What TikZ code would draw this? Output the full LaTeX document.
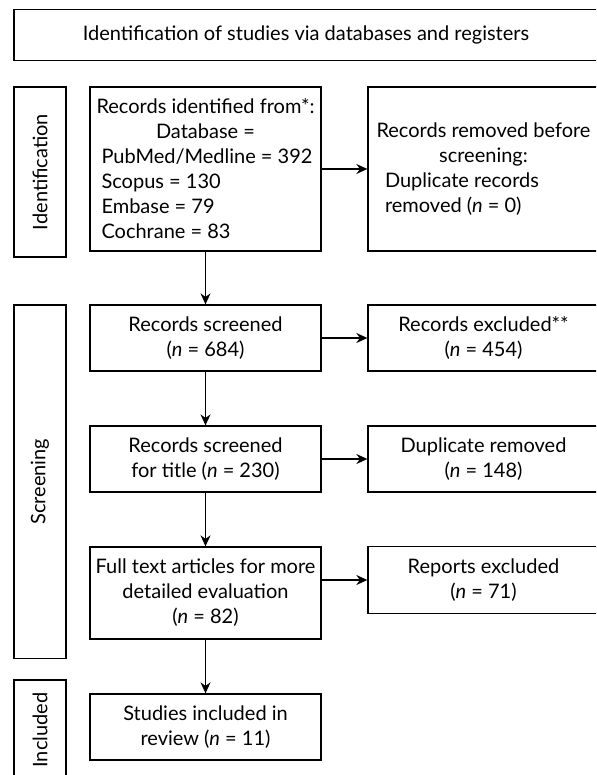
\documentclass[tikz,border=0pt]{standalone}
\usepackage{fontspec}
\setmainfont{Lato}
\usetikzlibrary{arrows.meta}

\tikzset{
  box/.style={draw, line width=1.3pt, minimum width=231pt, align=center, inner sep=2pt},
  side/.style={draw, line width=1.3pt, rotate=90, minimum height=52pt, inner sep=2pt},
  flow/.style={->, line width=1.3pt},
}
\newcommand{\nn}{\textit{n}}

\begin{document}
\begin{tikzpicture}[x=1pt, y=-1pt, >={Stealth[length=11pt,width=10pt]},
    font=\fontsize{20}{25}\selectfont]
        \useasboundingbox (0,0) rectangle (596,775);
        \clip (0,0) rectangle (596,775);

        % Header across the top
        \node[box, minimum width=584pt, minimum height=51.4pt] (head) at (306,35)
            {Identification of studies via databases and registers};

        % Phase labels on the left
        \node[side, minimum width=170pt] (phaseid) at (40,172) {Identification};
        \node[side, minimum width=353.5pt] (phasescr) at (40,481.75) {Screening};
        \node[side, minimum width=100pt] (phaseinc) at (40,730) {Included};

        % Identification
        \node[box, minimum height=164pt] (ident) at (205.5,169)
            {Records identified from*:\\ Database =\\
             \makebox[208pt][l]{PubMed/Medline = 392}\\
             \makebox[208pt][l]{Scopus = 130}\\
             \makebox[208pt][l]{Embase = 79}\\
             \makebox[208pt][l]{Cochrane = 83}};
        \node[box, minimum height=164pt] (removed) at (483.5,169)
            {Records removed before\\ screening:\\
             \makebox[197pt][l]{Duplicate records}\\
             \makebox[197pt][l]{removed (\nn{} = 0)}};

        % Screening
        \node[box, minimum height=66pt] (screened) at (205.5,338)
            {Records screened\\ (\nn{} = 684)};
        \node[box, minimum height=66pt] (excluded) at (483.5,338)
            {Records excluded**\\ (\nn{} = 454)};
        \node[box, minimum height=66pt] (bytitle) at (205.5,459)
            {Records screened\\ for title (\nn{} = 230)};
        \node[box, minimum height=66pt] (duplicate) at (483.5,459)
            {Duplicate removed\\ (\nn{} = 148)};
        \node[box, minimum height=92pt] (fulltext) at (205.5,593)
            {Full text articles for more\\ detailed evaluation\\ (\nn{} = 82)};
        \node[box, minimum height=66.5pt] (reports) at (483.5,580)
            {Reports excluded\\ (\nn{} = 71)};

        % Included
        \node[box, minimum height=66pt] (included) at (205.5,727)
            {Studies included in\\ review (\nn{} = 11)};

        % Arrows
        \draw[flow] (ident) -- (removed);
        \draw[flow] (ident) -- (screened);
        \draw[flow] (screened) -- (excluded);
        \draw[flow] (screened) -- (bytitle);
        \draw[flow] (bytitle) -- (duplicate);
        \draw[flow] (bytitle) -- (fulltext);
        \draw[flow] (fulltext.east |- reports.west) -- (reports.west);
        \draw[flow] (fulltext) -- (included);
\end{tikzpicture}
\end{document}
